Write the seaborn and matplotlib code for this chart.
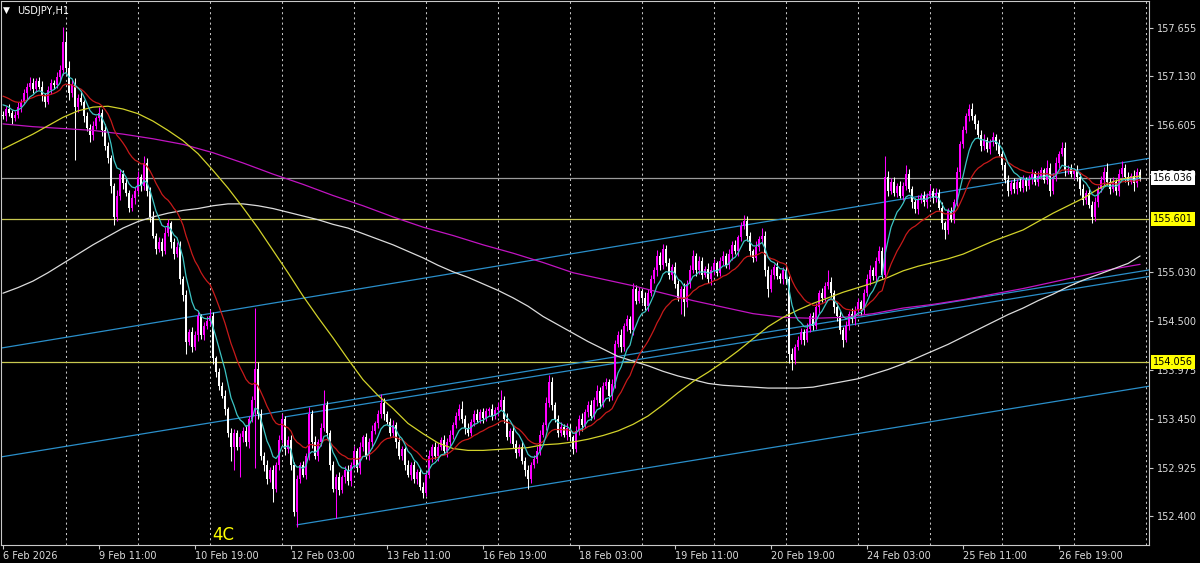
import numpy as np
import pandas as pd
import matplotlib
matplotlib.use("Agg")
import matplotlib.pyplot as plt
import seaborn as sns

# ----------------------------------------
# DATA (one value per hourly bar)
# ----------------------------------------

first_open = 156.72

close_prices = [
    156.70, 156.78, 156.74, 156.68, 156.72, 156.80, 156.86, 156.95, 157.02, 157.06,
    157.00, 157.08, 157.02, 156.92, 156.86, 156.98, 157.06, 157.04, 157.12, 157.20,
    157.50, 157.22, 156.95, 157.05, 156.80, 156.90, 156.85, 156.70, 156.58, 156.50,
    156.60, 156.68, 156.74, 156.55, 156.38, 156.25, 155.95, 155.62, 155.85, 156.08,
    155.98, 155.88, 155.72, 155.82, 155.90, 156.05, 155.95, 156.20, 155.90, 155.62,
    155.42, 155.28, 155.35, 155.25, 155.45, 155.55, 155.35, 155.22, 155.30, 154.95,
    154.78, 154.28, 154.38, 154.22, 154.35, 154.55, 154.35, 154.45, 154.50, 154.56,
    154.10, 153.95, 153.80, 153.70, 153.55, 153.30, 153.15, 153.30, 153.15, 153.25,
    153.32, 153.20, 153.45, 153.65, 153.98, 153.50, 153.05, 152.95, 152.80, 152.90,
    152.70, 152.95, 153.22, 153.45, 153.12, 153.22, 152.95, 152.45, 152.80, 152.95,
    152.85, 153.05, 153.50, 153.20, 153.05, 153.20, 153.35, 153.60, 153.30, 152.95,
    152.70, 152.82, 152.68, 152.82, 152.90, 152.78, 152.95, 153.10, 152.92, 153.15,
    153.25, 153.05, 153.20, 153.32, 153.40, 153.50, 153.62, 153.50, 153.42, 153.30,
    153.38, 153.20, 153.05, 153.12, 152.95, 152.85, 152.95, 152.80, 152.88, 152.72,
    152.65, 152.85, 153.05, 153.15, 153.05, 153.15, 153.22, 153.10, 153.20, 153.28,
    153.38, 153.48, 153.55, 153.45, 153.35, 153.30, 153.42, 153.50, 153.44, 153.52,
    153.46, 153.53, 153.55, 153.48, 153.54, 153.58, 153.65, 153.45, 153.25, 153.32,
    153.18, 153.08, 153.15, 153.00, 152.90, 152.80, 152.95, 153.02, 153.10, 153.28,
    153.38, 153.62, 153.85, 153.60, 153.45, 153.30, 153.36, 153.28, 153.35, 153.25,
    153.12, 153.32, 153.45, 153.38, 153.52, 153.60, 153.48, 153.65, 153.75, 153.62,
    153.80, 153.85, 153.70, 153.82, 154.25, 154.35, 154.22, 154.45, 154.52, 154.40,
    154.85, 154.72, 154.82, 154.75, 154.66, 154.80, 154.95, 155.05, 155.20, 155.10,
    155.28, 155.12, 155.00, 155.08, 154.90, 154.75, 154.85, 154.70, 154.90, 155.05,
    155.20, 155.05, 155.15, 155.00, 155.06, 154.95, 155.05, 155.12, 155.02, 155.15,
    155.20, 155.10, 155.22, 155.32, 155.25, 155.40, 155.52, 155.58, 155.42, 155.25,
    155.18, 155.30, 155.38, 155.42, 155.05, 154.85, 155.00, 155.08, 154.98, 154.95,
    155.05, 154.95, 154.15, 154.08, 154.22, 154.30, 154.38, 154.30, 154.42, 154.55,
    154.45, 154.65, 154.80, 154.75, 154.88, 154.92, 154.80, 154.65, 154.55, 154.40,
    154.30, 154.45, 154.58, 154.52, 154.62, 154.70, 154.62, 154.80, 154.95, 155.05,
    154.98, 155.15, 155.25, 155.00, 156.05, 155.90, 156.00, 155.88, 155.95, 155.85,
    155.95, 156.08, 155.92, 155.78, 155.70, 155.80, 155.85, 155.78, 155.84, 155.90,
    155.82, 155.88, 155.72, 155.55, 155.48, 155.68, 155.60, 155.78, 156.10, 156.40,
    156.55, 156.70, 156.78, 156.70, 156.62, 156.50, 156.38, 156.45, 156.35, 156.42,
    156.48, 156.40, 156.30, 156.18, 156.02, 155.90, 155.98, 155.92, 156.00, 155.93,
    156.02, 155.95, 156.03, 156.08, 156.00, 156.06, 156.12, 156.02, 156.15, 155.90,
    156.05, 156.20, 156.30, 156.36, 156.12, 156.14, 156.08, 156.12, 156.05, 155.92,
    155.80, 155.88, 155.75, 155.62, 155.78, 155.92, 156.02, 156.10, 156.00, 155.92,
    156.00, 155.90, 156.08, 156.15, 156.05, 156.00, 156.06, 155.98, 156.10, 156.036,
]

# wick lengths above / below the body, in pips (0.01)
upper_wick_pips = [
    4, 3, 5, 3, 4, 6, 3, 5, 4, 6, 5, 3, 4, 6, 3, 5, 4, 3, 6, 5,
    16, 12, 8, 5, 6, 4, 7, 3, 5, 4, 5, 3, 6, 4, 7, 5, 4, 3, 6, 5,
    4, 6, 3, 5, 4, 6, 3, 8, 5, 4, 6, 3, 5, 4, 6, 5, 3, 4, 5, 6,
    4, 5, 3, 6, 4, 5, 3, 4, 5, 6, 4, 3, 5, 4, 6, 3, 5, 4, 3, 5,
    4, 6, 3, 5, 66, 8, 5, 4, 6, 3, 5, 4, 6, 5, 3, 4, 6, 3, 5, 4,
    5, 3, 8, 4, 6, 3, 5, 16, 4, 3, 5, 4, 6, 3, 4, 5, 3, 6, 4, 5,
    3, 5, 4, 6, 3, 4, 10, 5, 3, 4, 6, 3, 5, 4, 3, 6, 4, 5, 3, 4,
    5, 4, 6, 3, 5, 4, 3, 6, 4, 5, 3, 4, 6, 9, 4, 5, 3, 4, 6, 3,
    5, 4, 3, 6, 4, 5, 11, 4, 6, 3, 5, 4, 3, 6, 4, 5, 3, 4, 6, 5,
    4, 6, 7, 5, 3, 4, 6, 3, 5, 4, 3, 5, 4, 6, 3, 4, 5, 3, 6, 4,
    5, 4, 3, 6, 5, 4, 6, 3, 5, 4, 6, 4, 5, 3, 6, 4, 5, 3, 6, 4,
    5, 4, 6, 3, 5, 4, 3, 6, 4, 5, 6, 3, 5, 4, 3, 6, 4, 5, 3, 4,
    5, 3, 6, 4, 5, 3, 4, 6, 5, 4, 3, 6, 4, 8, 5, 4, 6, 3, 5, 4,
    3, 5, 4, 6, 3, 4, 5, 3, 6, 4, 5, 4, 3, 6, 4, 13, 5, 3, 4, 6,
    4, 5, 3, 6, 4, 5, 3, 4, 6, 5, 3, 4, 6, 5, 23, 6, 4, 5, 3, 6,
    4, 10, 5, 3, 4, 6, 3, 5, 4, 6, 3, 5, 4, 6, 3, 4, 5, 3, 6, 4,
    5, 4, 5, 6, 3, 4, 5, 6, 3, 4, 5, 3, 6, 4, 3, 5, 4, 6, 3, 4,
    5, 3, 4, 6, 3, 5, 4, 3, 8, 5, 4, 6, 3, 6, 7, 4, 5, 3, 6, 4,
    5, 3, 6, 4, 5, 3, 4, 6, 10, 4, 5, 3, 6, 7, 4, 5, 3, 6, 5, 4,
]
lower_wick_pips = [
    3, 5, 4, 6, 3, 4, 5, 3, 6, 4, 5, 4, 3, 5, 6, 3, 4, 5, 3, 4,
    5, 6, 7, 4, 57, 5, 3, 6, 4, 8, 5, 4, 3, 6, 4, 5, 7, 9, 4, 5,
    6, 3, 5, 4, 6, 3, 5, 4, 6, 5, 3, 6, 4, 5, 3, 4, 6, 5, 3, 5,
    6, 13, 4, 5, 3, 6, 4, 5, 3, 4, 6, 5, 4, 3, 6, 5, 15, 25, 4, 33,
    5, 4, 6, 3, 73, 5, 4, 6, 5, 3, 15, 4, 5, 3, 6, 4, 5, 5, 16, 4,
    3, 5, 4, 6, 3, 5, 4, 3, 6, 5, 4, 32, 5, 3, 6, 4, 5, 3, 4, 6,
    5, 3, 4, 6, 3, 5, 4, 6, 3, 4, 5, 6, 3, 4, 5, 3, 6, 4, 5, 4,
    5, 3, 4, 6, 3, 5, 4, 3, 6, 4, 5, 3, 4, 5, 6, 3, 4, 5, 3, 4,
    6, 3, 5, 4, 3, 6, 4, 5, 3, 6, 4, 5, 3, 4, 6, 10, 4, 3, 5, 4,
    3, 5, 4, 6, 3, 5, 4, 3, 6, 4, 5, 3, 4, 6, 3, 5, 4, 3, 6, 5,
    4, 3, 6, 5, 4, 3, 5, 4, 6, 3, 5, 4, 3, 6, 4, 5, 3, 4, 6, 5,
    4, 3, 5, 6, 4, 3, 17, 15, 5, 4, 3, 6, 4, 5, 3, 4, 6, 5, 3, 4,
    5, 3, 4, 6, 3, 5, 4, 3, 6, 5, 4, 3, 5, 4, 6, 9, 4, 5, 3, 4,
    5, 4, 10, 11, 4, 3, 5, 6, 3, 4, 5, 3, 6, 4, 5, 3, 4, 6, 5, 4,
    8, 3, 5, 4, 6, 3, 5, 4, 3, 6, 4, 5, 3, 4, 5, 6, 3, 4, 5, 3,
    5, 4, 3, 6, 4, 5, 3, 4, 6, 3, 5, 4, 3, 6, 10, 4, 3, 5, 4, 6,
    4, 3, 5, 4, 6, 3, 5, 4, 3, 5, 4, 6, 3, 5, 4, 6, 3, 4, 5, 3,
    4, 5, 3, 6, 4, 5, 3, 4, 5, 6, 3, 4, 5, 3, 6, 4, 3, 5, 4, 6,
    5, 4, 3, 7, 4, 5, 3, 6, 4, 5, 3, 4, 6, 3, 5, 4, 3, 8, 4, 3,
]

# value of the fast / slow MAs at the left edge of the screen
ma_fast_seed = 156.86
ma_slow_seed = 156.94

# long moving averages, read every 5 bars
ma5_bars = list(range(0, 380, 5)) + [379]
ma_yellow = [156.35, 156.43, 156.51, 156.60, 156.69, 156.76, 156.80, 156.81, 156.78, 156.73,
             156.65, 156.55, 156.44, 156.30, 156.12, 155.93, 155.72, 155.50, 155.26, 155.02,
             154.77, 154.54, 154.32, 154.09, 153.87, 153.70, 153.56, 153.40, 153.29, 153.19,
             153.13, 153.11, 153.11, 153.12, 153.13, 153.14, 153.17, 153.18, 153.20, 153.23,
             153.27, 153.32, 153.39, 153.48, 153.60, 153.73, 153.85, 153.95, 154.06, 154.18,
             154.31, 154.44, 154.54, 154.62, 154.69, 154.75, 154.81, 154.86, 154.91, 154.97,
             155.04, 155.09, 155.13, 155.17, 155.22, 155.29, 155.36, 155.42, 155.48, 155.57,
             155.66, 155.74, 155.82, 155.92, 156.00, 156.04, 156.06]
ma_white = [154.80, 154.86, 154.93, 155.02, 155.12, 155.22, 155.32, 155.41, 155.50, 155.57,
            155.62, 155.66, 155.69, 155.71, 155.74, 155.76, 155.76, 155.74, 155.71, 155.67,
            155.63, 155.59, 155.54, 155.50, 155.44, 155.38, 155.32, 155.25, 155.18, 155.10,
            155.03, 154.97, 154.90, 154.83, 154.75, 154.66, 154.55, 154.46, 154.37, 154.28,
            154.20, 154.12, 154.07, 154.02, 153.96, 153.91, 153.87, 153.83, 153.81, 153.80,
            153.79, 153.78, 153.78, 153.78, 153.79, 153.82, 153.85, 153.88, 153.93, 153.98,
            154.04, 154.11, 154.18, 154.25, 154.33, 154.41, 154.49, 154.57, 154.64, 154.72,
            154.79, 154.87, 154.94, 155.00, 155.06, 155.12, 155.20]

# very slow magenta MA, read every 10 bars
ma10_bars = list(range(0, 380, 10)) + [379]
ma_magenta = [156.62, 156.59, 156.57, 156.55, 156.51, 156.46, 156.40, 156.31, 156.20,
              156.08, 155.97, 155.85, 155.74, 155.62, 155.51, 155.42, 155.32, 155.23,
              155.13, 155.02, 154.95, 154.88, 154.80, 154.72, 154.65, 154.58, 154.54,
              154.53, 154.54, 154.58, 154.64, 154.68, 154.73, 154.79, 154.85, 154.92,
              154.99, 155.06, 155.11]

# drawn trend lines (anchor bar / price)
tl_start_bar = [-1, -1, 94, 98]
tl_start_price = [154.208, 153.038, 153.47, 152.31]
tl_end_bar = [382, 382, 382, 382]
tl_end_price = [156.25, 155.05, 154.98, 153.80]

# horizontal levels and their price boxes
level_prices = [156.036, 155.601, 154.056]
level_colors = ["#9c9c9c", "#c8c850", "#c8c850"]
level_box_colors = ["#ffffff", "#ffff00", "#ffff00"]

y_tick_values = [157.655, 157.130, 156.605, 156.080, 155.030, 154.500,
                 153.975, 153.450, 152.925, 152.400]
x_label_bars = [0, 32, 64, 96, 128, 160, 192, 224, 256, 288, 320, 352]
x_labels = ["6 Feb 2026", "9 Feb 11:00", "10 Feb 19:00", "12 Feb 03:00",
            "13 Feb 11:00", "16 Feb 19:00", "18 Feb 03:00", "19 Feb 11:00",
            "20 Feb 19:00", "24 Feb 03:00", "25 Feb 11:00", "26 Feb 19:00"]
midnight_bars = [21, 45, 69, 93, 117, 141, 165, 189, 213, 237, 261, 285, 309,
                 333, 357, 381]

# ----------------------------------------
# BUILD OHLC + SHORT MAs
# ----------------------------------------

df = pd.DataFrame({"close": close_prices,
                   "up": upper_wick_pips,
                   "dn": lower_wick_pips})
df["bar"] = np.arange(len(df))
df["open"] = df["close"].shift(1).fillna(first_open)
df["top"] = df[["open", "close"]].max(axis=1)
df["bottom"] = df[["open", "close"]].min(axis=1)
df["high"] = df["top"] + df["up"] * 0.01
df["low"] = df["bottom"] - df["dn"] * 0.01
df["bull"] = df["close"] >= df["open"]


def seeded_ema(values, seed, span):
    s = pd.concat([pd.Series([seed]), values], ignore_index=True)
    return s.ewm(span=span, adjust=False).mean().iloc[1:].to_numpy()


df["ma_fast"] = seeded_ema(df["close"], ma_fast_seed, 8)
df["ma_slow"] = seeded_ema(df["close"], ma_slow_seed, 21)

# ----------------------------------------
# PLOT
# ----------------------------------------

sns.set_theme(style="dark", rc={"axes.facecolor": "black",
                                "figure.facecolor": "black",
                                "savefig.facecolor": "black"})
plt.rcParams["font.family"] = ["DejaVu Sans"]

fig = plt.figure(figsize=(12, 5.63), dpi=100)
ax = fig.add_axes([0.0008, 18 / 563, 1148 / 1200, 544 / 563])
ax.set_facecolor("black")
ax.grid(False)

ax.set_xlim(-0.67, 381.95)
ax.set_ylim(152.093, 157.941)

# daily dotted grid
for b in midnight_bars:
    ax.axvline(b, color="#c4c4c4", lw=0.75, ls=(0, (2, 3)), zorder=0.5)

# horizontal levels
for lvl, col in zip(level_prices, level_colors):
    ax.axhline(lvl, color=col, lw=0.9, zorder=1)

# trend lines
for b0, p0, b1, p1 in zip(tl_start_bar, tl_start_price, tl_end_bar, tl_end_price):
    ax.plot([b0, b1], [p0, p1], color="#2a8fca", lw=0.9, zorder=1.2)

# candles
colors = np.where(df["bull"], "#ff00ff", "#ffffff")
ax.vlines(df["bar"], df["low"], df["high"], colors=colors, lw=0.75, zorder=2)
ax.bar(df["bar"], np.maximum(df["top"] - df["bottom"], 0.006), bottom=df["bottom"],
       width=0.64, color=colors, linewidth=0, zorder=2.1)

# moving averages
sns.lineplot(x=ma10_bars, y=ma_magenta, ax=ax, color="#c214c2", lw=0.9,
             estimator=None, sort=False, zorder=2.5)
sns.lineplot(x=ma5_bars, y=ma_white, ax=ax, color="#dcdcdc", lw=0.9,
             estimator=None, sort=False, zorder=2.5)
sns.lineplot(x=ma5_bars, y=ma_yellow, ax=ax, color="#d2d22a", lw=0.9,
             estimator=None, sort=False, zorder=2.5)
sns.lineplot(data=df, x="bar", y="ma_slow", ax=ax, color="#c81a1a", lw=0.9,
             estimator=None, zorder=2.6)
sns.lineplot(data=df, x="bar", y="ma_fast", ax=ax, color="#3cc4c4", lw=0.9,
             estimator=None, zorder=2.7)
ax.set_xlabel("")
ax.set_ylabel("")

# axes frame
for sp in ax.spines.values():
    sp.set_color("#c8c8c8")
    sp.set_linewidth(0.8)

ax.set_xticks(x_label_bars)
ax.set_xticklabels(x_labels, ha="left")
ax.tick_params(axis="x", which="both", bottom=True, direction="out", length=3,
               width=0.8, color="#c8c8c8", labelcolor="#dcdcdc", labelsize=7, pad=1.5)

ax.yaxis.tick_right()
ax.set_yticks(y_tick_values)
ax.set_yticklabels([f"{v:.3f}" for v in y_tick_values])
ax.tick_params(axis="y", which="both", right=True, left=False, direction="out",
               length=3, width=0.8, color="#c8c8c8", labelcolor="#dcdcdc",
               labelsize=7, pad=3)

# price boxes on the right scale
for lvl, face in zip(level_prices, level_box_colors):
    ax.text(1.0035, lvl, f"{lvl:.3f}", transform=ax.get_yaxis_transform(),
            ha="left", va="center", fontsize=7, color="black", clip_on=False,
            zorder=10, bbox=dict(boxstyle="square,pad=0.2", fc=face, ec="none"))

# title + annotation
fig.text(3 / 1200, 1 - 10.5 / 563, "\u25bc", color="white", fontsize=6.5, va="center")
fig.text(17 / 1200, 1 - 10.5 / 563, "USDJPY,H1", color="white", fontsize=7, va="center")
fig.text(212 / 1200, 1 - 535 / 563, "4C", color="#ffff00", fontsize=12, va="center")

fig.savefig("out.png", dpi=100, facecolor="black")
